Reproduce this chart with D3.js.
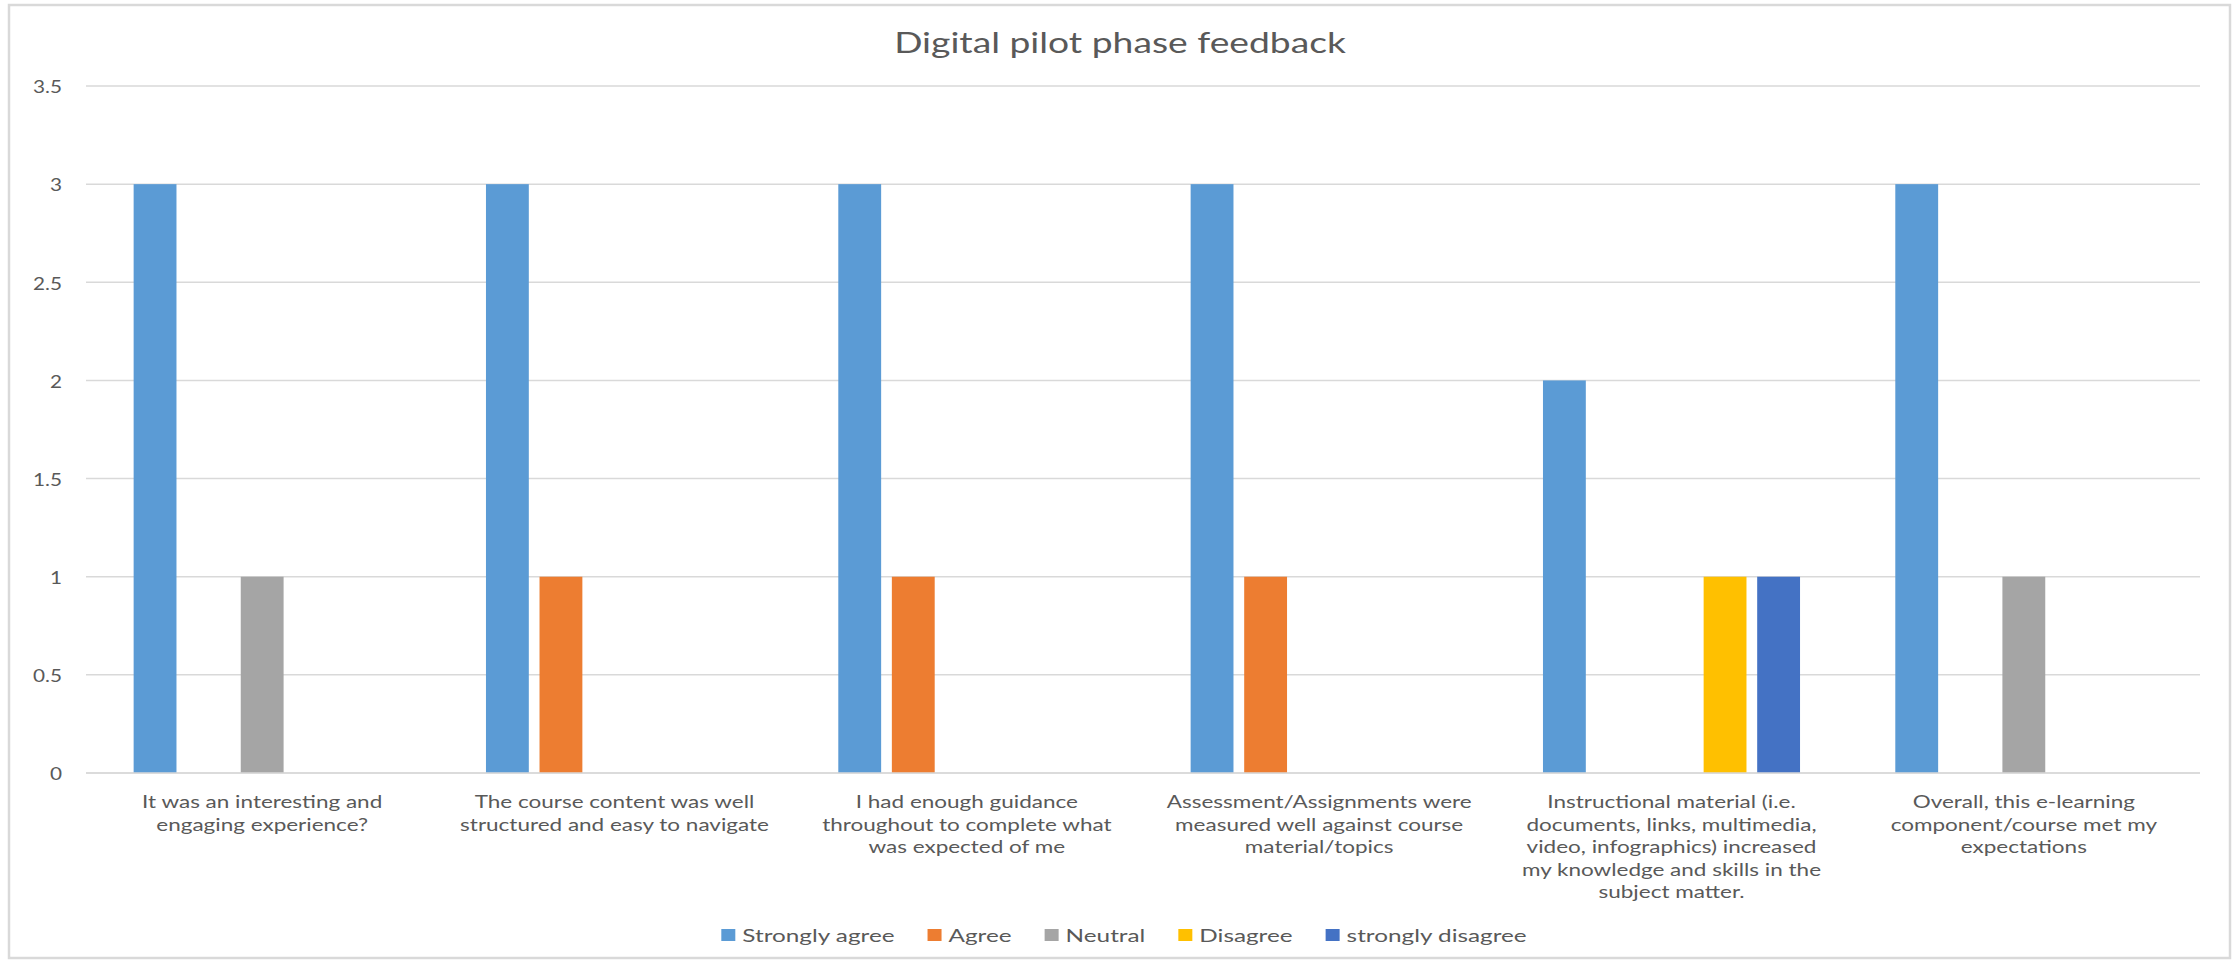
<!DOCTYPE html>
<html>
<head>
<meta charset="utf-8">
<script src="https://cdn.jsdelivr.net/npm/d3@7"></script>
<style>
  html, body { margin: 0; padding: 0; background: #fff; }
  svg { display: block; }
  text { font-family: Lato, "Open Sans", sans-serif; fill: #595959; }
</style>
</head>
<body>
<svg id="chart" width="2239" height="961"></svg>
<script>
// ---- data ----
const title = "Digital pilot phase feedback";
const categories = ["c1", "c2", "c3", "c4", "c5", "c6"];
const categoryLabels = [
  ["It was an interesting and", "engaging experience?"],
  ["The course content was well", "structured and easy to navigate"],
  ["I had enough guidance", "throughout to complete what", "was expected of me"],
  ["Assessment/Assignments were", "measured well against course", "material/topics"],
  ["Instructional material (i.e.", "documents, links, multimedia,", "video, infographics) increased", "my knowledge and skills in the", "subject matter."],
  ["Overall, this e-learning", "component/course met my", "expectations"]
];
const seriesNames = ["Strongly agree", "Agree", "Neutral", "Disagree", "strongly disagree"];
const seriesColors = ["#5B9BD5", "#ED7D31", "#A5A5A5", "#FFC000", "#4472C4"];
const stronglyAgree    = [3, 3, 3, 3, 2, 3];
const agree            = [0, 1, 1, 1, 0, 0];
const neutral          = [1, 0, 0, 0, 0, 1];
const disagree         = [0, 0, 0, 0, 1, 0];
const stronglyDisagree = [0, 0, 0, 0, 1, 0];
const seriesValues = [stronglyAgree, agree, neutral, disagree, stronglyDisagree];
const yTicks = [0, 0.5, 1, 1.5, 2, 2.5, 3, 3.5];

// ---- layout ----
const W = 2239, H = 961;
const plot = { left: 86, right: 2200, top: 86, bottom: 773 };

const svg = d3.select("#chart");

// outer border
svg.append("rect")
  .attr("x", 9).attr("y", 5).attr("width", 2221).attr("height", 953)
  .attr("fill", "#fff").attr("stroke", "#D9D9D9").attr("stroke-width", 2.5);

const x0 = d3.scaleBand().domain(categories).range([plot.left, plot.right])
  .paddingInner(0.24).paddingOuter(0.12);
const x1 = d3.scaleBand().domain(seriesNames).range([0, x0.bandwidth()])
  .paddingInner(0.2).paddingOuter(0.1);
const y = d3.scaleLinear().domain([0, 3.5]).range([plot.bottom, plot.top]);

// gridlines
svg.append("g").selectAll("line").data(yTicks).join("line")
  .attr("x1", plot.left).attr("x2", plot.right)
  .attr("y1", d => y(d)).attr("y2", d => y(d))
  .attr("stroke", "#D9D9D9").attr("stroke-width", 1.5);

// y axis
const yAxis = svg.append("g").attr("transform", `translate(${plot.left},0)`)
  .call(d3.axisLeft(y).tickValues(yTicks).tickSize(0).tickFormat(d3.format("")));
yAxis.select(".domain").remove();
yAxis.selectAll("text")
  .attr("x", 0).attr("dy", null).attr("dominant-baseline", "central")
  .attr("transform", `translate(-24,0) scale(1.22,1)`)
  .style("font-size", "17px").style("font-family", "Lato, sans-serif").attr("fill", "#595959");

// bars
const rows = categories.map((c, i) => ({ c, vals: seriesNames.map((s, k) => ({ s, v: seriesValues[k][i], k })) }));
const groups = svg.append("g").selectAll("g").data(rows).join("g")
  .attr("transform", d => `translate(${x0(d.c)},0)`);
groups.selectAll("rect").data(d => d.vals.filter(o => o.v > 0)).join("rect")
  .attr("x", d => x1(d.s)).attr("width", x1.bandwidth())
  .attr("y", d => y(d.v)).attr("height", d => y(0) - y(d.v))
  .attr("fill", d => seriesColors[d.k]);

// x axis
const xAxis = svg.append("g").attr("transform", `translate(0,${plot.bottom})`)
  .call(d3.axisBottom(x0).tickSize(0).tickFormat(""));
xAxis.select(".domain").attr("stroke", "#D9D9D9").attr("stroke-width", 1.5)
  .attr("d", `M${plot.left},0H${plot.right}`);
xAxis.selectAll(".tick").each(function (d, i) {
  const g = d3.select(this);
  g.select("text").remove();
  const t = g.append("text")
    .attr("text-anchor", "middle")
    .attr("transform", `translate(0,35) scale(1.25,1)`)
    .style("font-size", "18px").attr("fill", "#595959");
  t.selectAll("tspan").data(categoryLabels[i]).join("tspan")
    .attr("x", 0).attr("dy", (l, j) => j === 0 ? 0 : 22.6).text(l => l);
});

// title
svg.append("text")
  .attr("text-anchor", "middle")
  .attr("transform", `translate(1120,53) scale(1.33,1)`)
  .style("font-size", "28px").attr("fill", "#595959")
  .text(title);

// legend
const LSX = 1.35;
const legend = svg.append("g");
let lx = 0;
seriesNames.forEach((name, k) => {
  const item = legend.append("g").attr("transform", `translate(${lx},0)`);
  item.append("rect").attr("x", 0).attr("y", -6).attr("width", 14).attr("height", 12)
    .attr("fill", seriesColors[k]);
  const t = item.append("text").attr("x", 0).attr("dominant-baseline", "central")
    .attr("transform", `translate(21,0) scale(${LSX},1)`)
    .style("font-size", "18px").attr("fill", "#595959").text(name);
  const w = t.node().getComputedTextLength() * LSX;
  lx += 21 + w + 33;
});
const legendWidth = lx - 33;
legend.attr("transform", `translate(${1124 - legendWidth / 2},935)`);
</script>
</body>
</html>
